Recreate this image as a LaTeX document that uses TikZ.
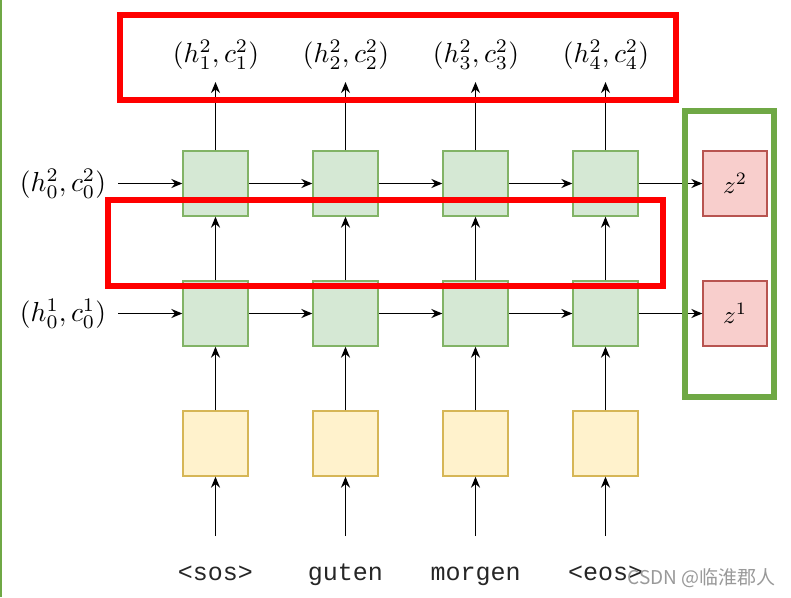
\documentclass[tikz,border=0pt]{standalone}
\usepackage{fontspec}
\usepackage{graphicx}
\setmonofont{Liberation Mono}
\newfontfamily\cjk{Noto Sans CJK SC}
\usetikzlibrary{arrows.meta}
\definecolor{gfill}{HTML}{D5E8D4}
\definecolor{gline}{HTML}{82B366}
\definecolor{yfill}{HTML}{FFF2CC}
\definecolor{yline}{HTML}{D6B656}
\definecolor{rfill}{HTML}{F8CECC}
\definecolor{rline}{HTML}{B85450}
\definecolor{frred}{HTML}{FF0000}
\definecolor{frgreen}{HTML}{6FA845}
\newcommand{\biglab}[1]{\scalebox{2.75}{$#1$}}
\newcommand{\zlab}[1]{\scalebox{2.5}{$#1$}}
\tikzset{
  cell/.style={draw=gline, fill=gfill, line width=1.3pt, minimum width=65pt, minimum height=65pt, inner sep=0pt},
  emb/.style={draw=yline, fill=yfill, line width=1.3pt, minimum width=65pt, minimum height=65pt, inner sep=0pt},
  zbox/.style={draw=rline, fill=rfill, line width=1.3pt, minimum width=64pt, minimum height=65pt, inner sep=0pt},
  lab/.style={inner sep=0pt},
  word/.style={inner sep=0pt, anchor=base, font=\fontsize{25}{28}\selectfont\ttfamily, text=black!85},
  arr/.style={line width=1.5pt, -{Stealth[length=11pt,width=9pt]}},
  frame/.style={line width=6pt}
}
\begin{document}
\begin{tikzpicture}[x=1pt,y=-1pt]
\useasboundingbox (0,0) rectangle (791,597);
\fill[white] (0,0) rectangle (791,597);
\draw[frgreen, line width=1.5pt] (1,0) -- (1,597);
% columns
\foreach \i/\x in {1/215.5,2/345.5,3/475.5,4/605.5}{
  \node[cell] (b\i) at (\x,183.5) {};
  \node[cell] (a\i) at (\x,313.5) {};
  \node[emb] (e\i) at (\x,443.5) {};
  \coordinate (t\i) at (\x,82);
  \coordinate (s\i) at (\x,536);
}
\node[zbox] (z2) at (735,183.5) {\zlab{z^2}};
\node[zbox] (z1) at (735,313.5) {\zlab{z^1}};
% labels
\node[lab] (o1) at (216,55) {\biglab{(h^2_1,c^2_1)}};
\node[lab] (o2) at (346,55) {\biglab{(h^2_2,c^2_2)}};
\node[lab] (o3) at (476,55) {\biglab{(h^2_3,c^2_3)}};
\node[lab] (o4) at (606,55) {\biglab{(h^2_4,c^2_4)}};
\node[lab] (l2) at (63,184) {\biglab{(h^2_0,c^2_0)}};
\node[lab] (l1) at (63,314) {\biglab{(h^1_0,c^1_0)}};
\coordinate (p2) at (118,183.5);
\coordinate (p1) at (118,313.5);
\node[word] (w1) at (215.5,580) {<sos>};
\node[word] (w2) at (345.5,580) {guten};
\node[word] (w3) at (475.5,580) {morgen};
\node[word] (w4) at (605.5,580) {<eos>};
% arrows
\foreach \i in {1,2,3,4}{
  \draw[arr] (s\i) -- (e\i.south);
  \draw[arr] (e\i.north) -- (a\i.south);
  \draw[arr] (a\i.north) -- (b\i.south);
  \draw[arr] (b\i.north) -- (t\i);
}
\foreach \i/\j in {1/2,2/3,3/4}{
  \draw[arr] (a\i.east) -- (a\j.west);
  \draw[arr] (b\i.east) -- (b\j.west);
}
\draw[arr] (a4.east) -- (z1.west);
\draw[arr] (b4.east) -- (z2.west);
\draw[arr] (p2) -- (b1.west);
\draw[arr] (p1) -- (a1.west);
% frames
\draw[frame, frred] (120,14.5) rectangle (676,100);
\draw[frame, frred] (107.5,200) rectangle (663,286);
\draw[frame, frgreen] (684.5,111) rectangle (774,397);
% watermark
\node[inner sep=0pt, anchor=base east, text=black!40, font=\fontsize{19}{22}\selectfont\cjk] (wm) at (776,584) {CSDN @临淮郡人};
\end{tikzpicture}
\end{document}
